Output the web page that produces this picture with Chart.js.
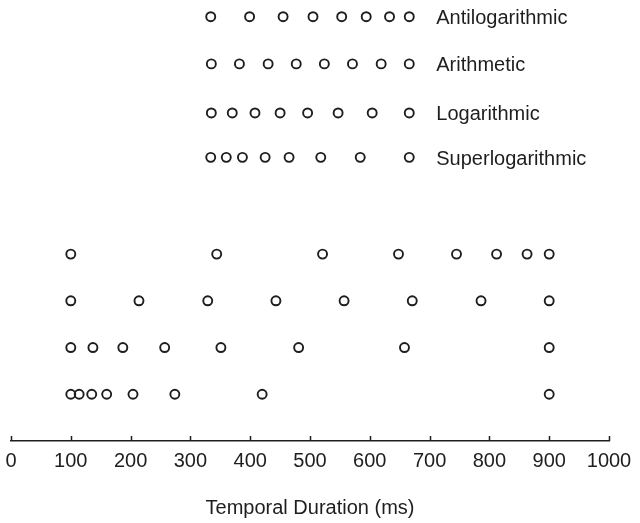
<!DOCTYPE html>
<html>
<head>
<meta charset="utf-8">
<script src="https://cdn.jsdelivr.net/npm/chart.js@4"></script>
<style>
  html, body { margin: 0; padding: 0; background: #fff; }
  canvas { display: block; }
</style>
</head>
<body>
<canvas id="myChart" width="640" height="523"></canvas>
<script>
// scale names, top to bottom
const scaleNames = ['Antilogarithmic', 'Arithmetic', 'Logarithmic', 'Superlogarithmic'];

// compressed set (upper block), durations in ms
const topAntilog = [334, 399, 455, 505, 553, 594, 633, 666];
const topArith = [335, 382, 430, 477, 524, 571, 619, 666];
const topLog = [335, 370, 408, 450, 496, 547, 604, 666];
const topSuperlog = [334, 360, 387, 425, 465, 518, 584, 666];

// full set (lower block), durations in ms
const lowAntilog = [100, 344, 521, 648, 745, 812, 863, 900];
const lowArith = [100, 214, 329, 443, 557, 671, 786, 900];
const lowLog = [100, 137, 187, 257, 351, 481, 658, 900];
const lowSuperlog = [100, 114, 135, 160, 204, 274, 420, 900];

// row positions on the hidden y axis
const topRowsY = [9.08, 8.07, 7.02, 6.07];
const lowRowsY = [4, 3, 2, 1];

const xTicks = [0, 100, 200, 300, 400, 500, 600, 700, 800, 900, 1000];

const ink = '#1e1e1e';
const fontFamily = "'Liberation Sans', Arial, Helvetica, sans-serif";

function row(values, y, name) {
    return {
        label: name,
        data: values.map(v => ({ x: v, y: y })),
        pointStyle: 'circle',
        pointRadius: 4.5,
        pointBorderWidth: 1.9,
        pointBorderColor: ink,
        pointBackgroundColor: 'rgba(0,0,0,0)',
        showLine: false,
    };
}

const topSets = [topAntilog, topArith, topLog, topSuperlog];
const lowSets = [lowAntilog, lowArith, lowLog, lowSuperlog];

const datasets = [];
topSets.forEach((vals, i) => datasets.push(row(vals, topRowsY[i], scaleNames[i])));
lowSets.forEach((vals, i) => datasets.push(row(vals, lowRowsY[i], '')));

// names next to the upper rows + small upward tick marks on the x axis
const extras = {
    id: 'extras',
    afterDraw(chart) {
        const ctx = chart.ctx;
        const xs = chart.scales.x;
        const ys = chart.scales.y;
        ctx.save();
        ctx.fillStyle = ink;
        ctx.font = '20px ' + fontFamily;
        ctx.textBaseline = 'middle';
        ctx.textAlign = 'left';
        topSets.forEach((vals, i) => {
            const px = xs.getPixelForValue(Math.max(...vals)) + 27;
            const py = ys.getPixelForValue(topRowsY[i]) + 2;
            ctx.fillText(scaleNames[i], px, py);
        });
        ctx.strokeStyle = ink;
        ctx.lineWidth = 1.5;
        ctx.beginPath();
        xTicks.forEach(t => {
            const px = Math.round(xs.getPixelForValue(t)) + 0.5;
            ctx.moveTo(px, xs.top);
            ctx.lineTo(px, xs.top - 5);
        });
        ctx.stroke();
        ctx.restore();
    }
};

new Chart(document.getElementById('myChart'), {
    type: 'scatter',
    data: { datasets: datasets },
    options: {
        responsive: false,
        animation: false,
        layout: { padding: { left: 11, right: 31, top: 2, bottom: 0 } },
        plugins: {
            legend: { display: false },
            tooltip: { enabled: false },
        },
        scales: {
            x: {
                type: 'linear',
                min: 0,
                max: 1000,
                afterBuildTicks: (scale) => { scale.ticks = xTicks.map(v => ({ value: v })); },
                afterFit: (scale) => { scale.height = 82; },
                grid: { display: false },
                border: { display: true, color: ink, width: 1.5 },
                ticks: {
                    color: ink,
                    padding: 0,
                    maxRotation: 0,
                    autoSkip: false,
                    font: { family: fontFamily, size: 20 },
                    callback: (v) => String(v),
                },
                title: {
                    display: true,
                    text: 'Temporal Duration (ms)',
                    color: ink,
                    font: { family: fontFamily, size: 20 },
                    padding: { top: 0, bottom: 3 },
                },
            },
            y: {
                display: false,
                min: 0,
                max: 9.3,
            },
        },
    },
    plugins: [extras],
});
</script>
</body>
</html>
